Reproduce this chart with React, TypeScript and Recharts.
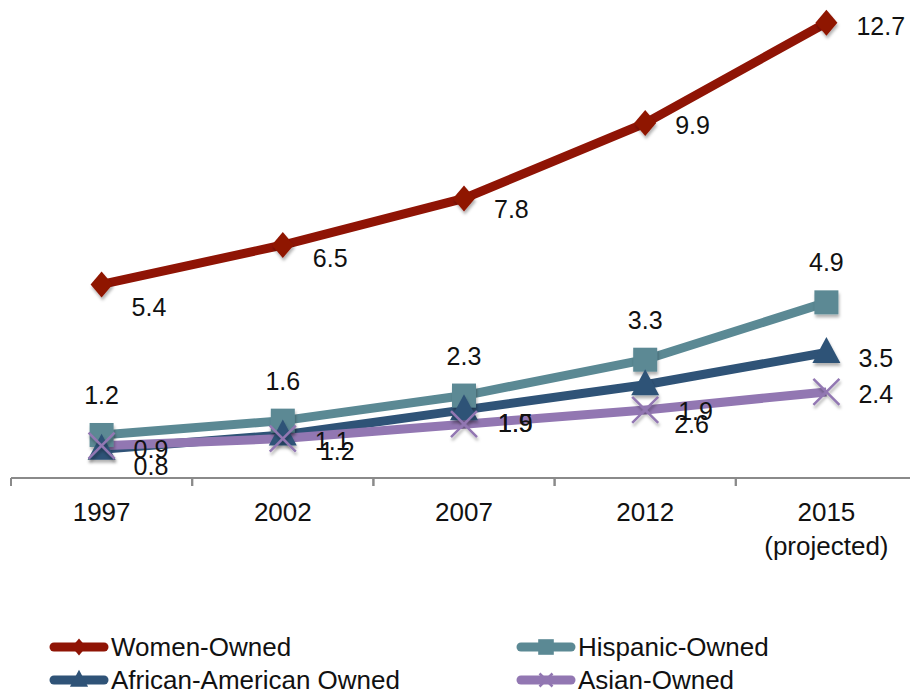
import { LineChart, Line, XAxis, YAxis, LabelList } from "recharts";

const YEARS = ["1997", "2002", "2007", "2012", "2015"];
const YEAR_NOTES: Record<string, string> = { "2015": "(projected)" };

// millions of firms
const WOMEN_OWNED = [5.4, 6.5, 7.8, 9.9, 12.7];
const HISPANIC_OWNED = [1.2, 1.6, 2.3, 3.3, 4.9];
const AFRICAN_AMERICAN_OWNED = [0.8, 1.2, 1.9, 2.6, 3.5];
const ASIAN_OWNED = [0.9, 1.1, 1.5, 1.9, 2.4];

const data = YEARS.map((year, i) => ({
  year,
  women: WOMEN_OWNED[i],
  hispanic: HISPANIC_OWNED[i],
  african: AFRICAN_AMERICAN_OWNED[i],
  asian: ASIAN_OWNED[i],
}));

const FONT = "'Liberation Sans', Arial, Helvetica, sans-serif";
const COLORS = {
  women: "#8f1405",
  hispanic: "#5b8994",
  african: "#2f5377",
  asian: "#9277b2",
};

// label placement per point: [dx from point to text start, dy to text middle]
const LABEL_NUDGE: Record<string, [number, number][]> = {
  women: [[30, 23], [30, 13], [30, 11], [30, 2], [30, 3]],
  african: [[32, 17], [37, 16], [34, 13], [29, 39], [32, 5]],
  asian: [[32, 3], [32, 2], [34, -1], [33, 1], [32, 2]],
};

type Shape = "diamond" | "square" | "triangle" | "cross";

function Marker({ cx, cy, shape, color, s = 1, shadow = true }: { cx: number; cy: number; shape: Shape; color: string; s?: number; shadow?: boolean }) {
  const filter = shadow ? "url(#markShadow)" : undefined;
  if (shape === "diamond") {
    const w = 11 * s, h = 13 * s;
    return <path d={`M${cx},${cy - h}L${cx + w},${cy}L${cx},${cy + h}L${cx - w},${cy}Z`} fill={color} filter={filter} />;
  }
  if (shape === "square") {
    const r = 12 * s;
    return <rect x={cx - r} y={cy - r} width={r * 2} height={r * 2} fill={color} filter={filter} />;
  }
  if (shape === "triangle") {
    const w = 14 * s, h = 26 * s;
    return <path d={`M${cx},${cy - h * 0.6}L${cx + w},${cy + h * 0.4}L${cx - w},${cy + h * 0.4}Z`} fill={color} filter={filter} />;
  }
  const r = 13 * s;
  return (
    <path
      d={`M${cx - r},${cy - r}L${cx + r},${cy + r}M${cx - r},${cy + r}L${cx + r},${cy - r}`}
      stroke={color}
      strokeWidth={2.5}
      filter={filter}
    />
  );
}

const dotFor = (shape: Shape, color: string) => (p: any) =>
  <Marker key={`${shape}-${p.index}`} cx={p.cx} cy={p.cy} shape={shape} color={color} />;

const sideLabel = (series: string) => (p: any) => {
  const [dx, dy] = LABEL_NUDGE[series][p.index] ?? [30, 0];
  return (
    <text x={p.x + dx} y={p.y + dy + 9} fontSize={25} fontFamily={FONT} fill="#111">
      {Number(p.value).toFixed(1)}
    </text>
  );
};

const aboveLabel = (p: any) => (
  <text x={p.x} y={p.y - 31} fontSize={25} fontFamily={FONT} fill="#111" textAnchor="middle">
    {Number(p.value).toFixed(1)}
  </text>
);

function YearTick(props: any) {
  const { x, y, payload } = props;
  const half = payload.offset ?? 90;
  const note = YEAR_NOTES[payload.value];
  return (
    <g>
      <line x1={x - half} x2={x - half} y1={y} y2={y + 8} stroke="#8a8a8a" strokeWidth={2} />
      <line x1={x + half} x2={x + half} y1={y} y2={y + 8} stroke="#8a8a8a" strokeWidth={2} />
      <text x={x} y={y + 43} fontSize={26} fontFamily={FONT} fill="#111" textAnchor="middle">
        {payload.value}
      </text>
      {note && (
        <text x={x} y={y + 77} fontSize={26} fontFamily={FONT} fill="#111" textAnchor="middle">
          {note}
        </text>
      )}
    </g>
  );
}

const LEGEND: { name: string; key: keyof typeof COLORS; shape: Shape; col: number; row: number }[] = [
  { name: "Women-Owned", key: "women", shape: "diamond", col: 0, row: 0 },
  { name: "Hispanic-Owned", key: "hispanic", shape: "square", col: 1, row: 0 },
  { name: "African-American Owned", key: "african", shape: "triangle", col: 0, row: 1 },
  { name: "Asian-Owned", key: "asian", shape: "cross", col: 1, row: 1 },
];

function ChartLegend() {
  const colX = [50, 517];
  return (
    <svg width={910} height={72} style={{ position: "absolute", left: 0, top: 620 }}>
      {LEGEND.map((item) => {
        const x0 = colX[item.col];
        const cy = 27 + item.row * 33;
        const color = COLORS[item.key];
        return (
          <g key={item.key}>
            <line x1={x0 + 4} x2={x0 + 54} y1={cy} y2={cy} stroke={color} strokeWidth={9} strokeLinecap="round" />
            <Marker cx={x0 + 29} cy={cy} shape={item.shape} color={color} s={item.shape === "cross" ? 0.5 : 0.65} shadow={false} />
            <text x={x0 + 61} y={cy + 9} fontSize={26} fontFamily={FONT} fill="#111">
              {item.name}
            </text>
          </g>
        );
      })}
    </svg>
  );
}

export default function App() {
  return (
    <div style={{ position: "absolute", left: 0, top: 0, width: 910, height: 692, overflow: "hidden", background: "#fff" }}>
      <LineChart width={920} height={560} data={data} margin={{ top: 12, right: 3, left: 11, bottom: 2 }}>
        <defs>
          <filter id="markShadow" x="-50%" y="-50%" width="200%" height="200%">
            <feDropShadow dx="1" dy="3" stdDeviation="1.5" floodColor="#000" floodOpacity="0.3" />
          </filter>
        </defs>
        <XAxis
          dataKey="year"
          scale="band"
          interval={0}
          height={80}
          tickSize={0}
          tickMargin={0}
          tickLine={false}
          axisLine={{ stroke: "#8a8a8a", strokeWidth: 2 }}
          tick={<YearTick />}
        />
        <YAxis hide domain={[0, 13]} />
        <Line dataKey="women" stroke={COLORS.women} strokeWidth={9} dot={dotFor("diamond", COLORS.women)} isAnimationActive={false}>
          <LabelList dataKey="women" content={sideLabel("women")} />
        </Line>
        <Line dataKey="hispanic" stroke={COLORS.hispanic} strokeWidth={9} dot={dotFor("square", COLORS.hispanic)} isAnimationActive={false}>
          <LabelList dataKey="hispanic" content={aboveLabel} />
        </Line>
        <Line dataKey="african" stroke={COLORS.african} strokeWidth={9} dot={dotFor("triangle", COLORS.african)} isAnimationActive={false}>
          <LabelList dataKey="african" content={sideLabel("african")} />
        </Line>
        <Line dataKey="asian" stroke={COLORS.asian} strokeWidth={9} dot={dotFor("cross", COLORS.asian)} isAnimationActive={false}>
          <LabelList dataKey="asian" content={sideLabel("asian")} />
        </Line>
      </LineChart>
      <ChartLegend />
    </div>
  );
}
